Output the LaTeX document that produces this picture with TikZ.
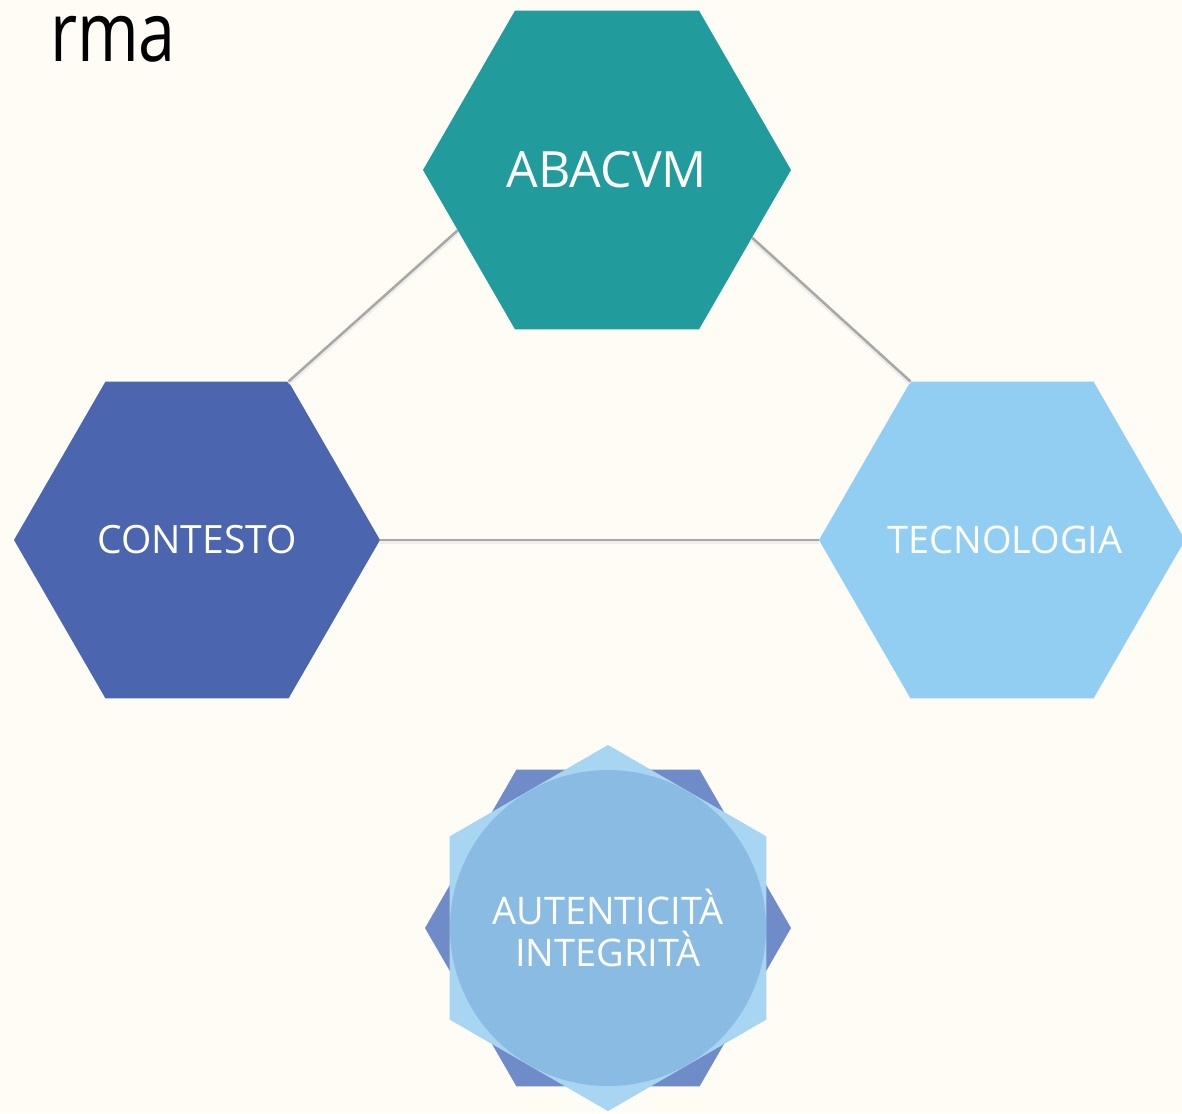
\documentclass[tikz,border=0pt]{standalone}
\usepackage{fontspec}
\setmainfont{Open Sans}
\newfontfamily\titlefont[FakeStretch=0.8]{Open Sans}
\usepackage{tikz}
\usetikzlibrary{shapes.geometric, positioning}
\definecolor{bgcream}{RGB}{254, 252, 244}
\definecolor{abateal}{RGB}{33, 155, 155}
\definecolor{ctxblue}{RGB}{75, 102, 174}
\definecolor{tecblue}{RGB}{146, 206, 242}
\definecolor{linkgray}{RGB}{170, 168, 162}
\definecolor{hexdark}{RGB}{111, 139, 200}
\definecolor{hexlight}{RGB}{168, 213, 242}
\definecolor{coremid}{RGB}{137, 187, 227}

\begin{document}
\begin{tikzpicture}[x=1pt, y=-1pt,
  hexbox/.style={regular polygon, regular polygon sides=6, minimum size=366pt, inner sep=0pt, outer sep=0pt},
  hextext/.style={text=white, inner sep=0pt, align=center},
  link/.style={draw=linkgray, line width=2.5pt, preaction={draw=black!7, line width=5pt, transform canvas={yshift=-1.5pt}}}]
  % page
  \fill[bgcream] (0,0) rectangle (1182,1113);
  \useasboundingbox (0,0) rectangle (1182,1113);

  % title fragment
  \node[anchor=base east, inner sep=0pt, font=\titlefont\fontsize{83}{83}\selectfont] (title) at (176,62) {rma};

  % three hexagons
  \node[hexbox, fill=abateal, minimum size=368pt] (abacvm) at (607,170) {};
  \node[hexbox, fill=ctxblue] (contesto) at (197,540) {};
  \node[hexbox, fill=tecblue] (tecnologia) at (1002,540) {};
  \node[hextext, font=\fontsize{50}{50}\selectfont] (abacvmtext) at (abacvm) {ABACVM};
  \node[hextext, font=\fontsize{39}{39}\selectfont] (contestotext) at (contesto) {CONTESTO};
  \node[hextext, font=\fontsize{38}{38}\selectfont] (tecnologiatext) at (1005,540) {TECNOLOGIA};

  % connectors
  \draw[link] (contesto.60) -- (abacvm.202);
  \draw[link] (abacvm.335) -- (tecnologia.120);
  \draw[link] (contesto) -- (tecnologia);

  % core: two hexagons and a circle
  \node[hexbox, fill=hexdark] (coredark) at (608,928) {};
  \node[hexbox, fill=hexlight, shape border rotate=90] (corelight) at (608,928) {};
  \node[circle, fill=coremid, minimum size=316pt, inner sep=0pt] (core) at (608,928) {};
  \node[hextext, font=\fontsize{38}{42}\selectfont] (coretext) at (core) {AUTENTICITÀ\\INTEGRITÀ};
\end{tikzpicture}
\end{document}
